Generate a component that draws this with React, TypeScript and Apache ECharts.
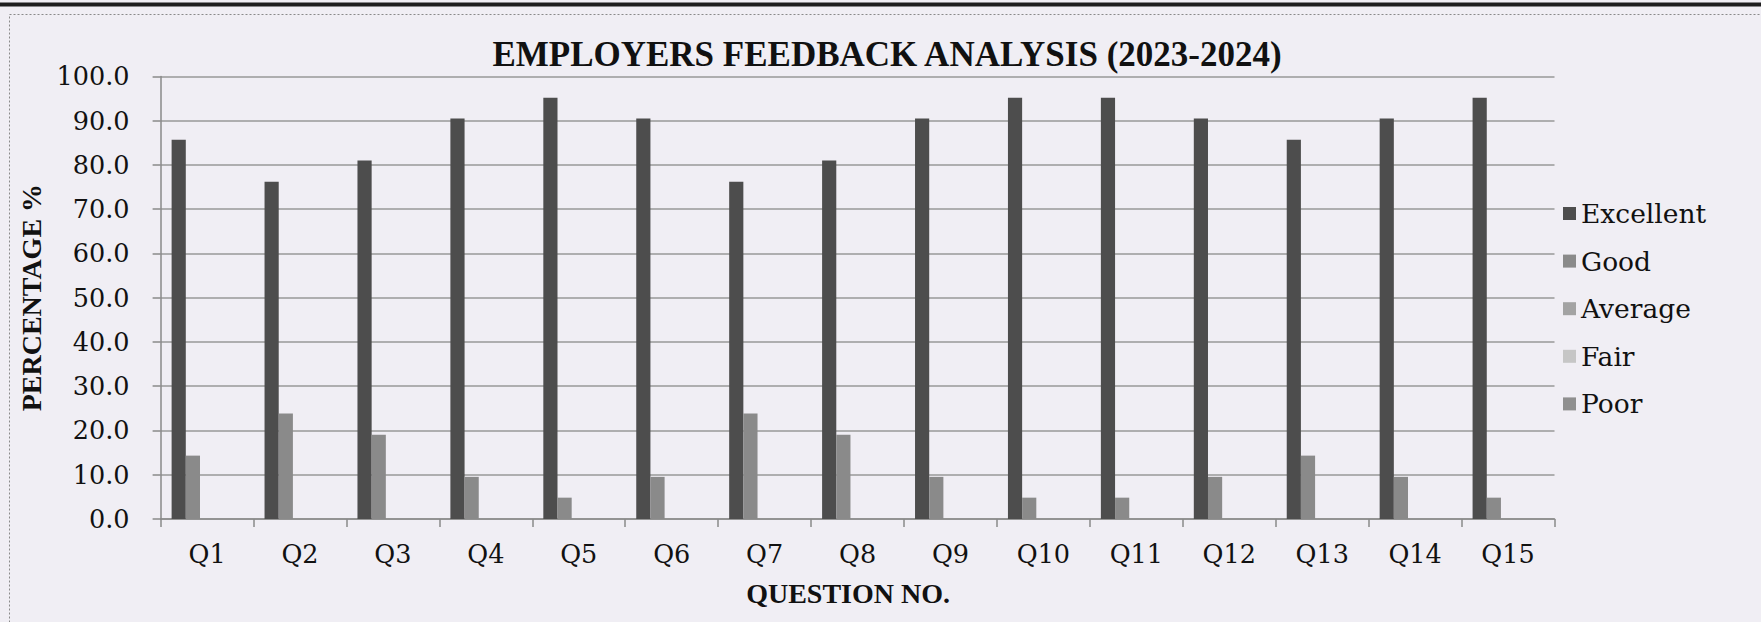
import React, { useEffect, useRef } from "react";
import * as echarts from "echarts";

const categories = ["Q1", "Q2", "Q3", "Q4", "Q5", "Q6", "Q7", "Q8", "Q9", "Q10", "Q11", "Q12", "Q13", "Q14", "Q15"];
const excellent = [85.7, 76.2, 81.0, 90.5, 95.2, 90.5, 76.2, 81.0, 90.5, 95.2, 95.2, 90.5, 85.7, 90.5, 95.2];
const good = [14.3, 23.8, 19.0, 9.5, 4.8, 9.5, 23.8, 19.0, 9.5, 4.8, 4.8, 9.5, 14.3, 9.5, 4.8];
const average = [0, 0, 0, 0, 0, 0, 0, 0, 0, 0, 0, 0, 0, 0, 0];
const fair = [0, 0, 0, 0, 0, 0, 0, 0, 0, 0, 0, 0, 0, 0, 0];
const poor = [0, 0, 0, 0, 0, 0, 0, 0, 0, 0, 0, 0, 0, 0, 0];
const yTicks = { min: 0, max: 100, interval: 10 };

const seriesDefs = [
  { name: "Excellent", data: excellent, color: "#4d4d4d" },
  { name: "Good", data: good, color: "#8a8a8a" },
  { name: "Average", data: average, color: "#a3a3a3" },
  { name: "Fair", data: fair, color: "#c6c6c6" },
  { name: "Poor", data: poor, color: "#8f8f8f" },
];

const REG = "'DejaVu Serif', serif";
const BOLD = "'Liberation Serif', 'Times New Roman', serif";

export default function App() {
  const ref = useRef<HTMLDivElement>(null);
  useEffect(() => {
    if (!ref.current) return;
    const chart = echarts.init(ref.current, undefined, { renderer: "svg" });
    chart.setOption({
      animation: false,
      backgroundColor: "#f0eef4",
      title: {
        text: "EMPLOYERS FEEDBACK ANALYSIS (2023-2024)",
        left: 887,
        top: 37,
        textAlign: "center",
        padding: 0,
        textStyle: { fontFamily: BOLD, fontWeight: "bold", fontSize: 35, lineHeight: 35, color: "#111" },
      },
      legend: {
        orient: "vertical",
        left: 1563,
        top: 200,
        padding: 0,
        itemWidth: 13,
        itemHeight: 13,
        itemGap: 20.6,
        icon: "rect",
        textStyle: { fontFamily: REG, fontSize: 26.5, lineHeight: 26, color: "#111" },
        data: seriesDefs.map((s) => s.name),
      },
      grid: { left: 160.6, right: 206.5, top: 76.4, bottom: 103.1, containLabel: false },
      xAxis: {
        type: "category",
        data: categories,
        name: "QUESTION NO.",
        nameLocation: "middle",
        nameGap: 61,
        nameTextStyle: {
          fontFamily: BOLD,
          fontWeight: "bold",
          fontSize: 28,
          lineHeight: 28,
          color: "#111",
          padding: [0, 19, 0, 0],
        },
        axisLine: { lineStyle: { color: "#8a8a8a", width: 1.5 } },
        axisTick: { show: true, length: 8, lineStyle: { color: "#8a8a8a", width: 1.5 } },
        axisLabel: { fontFamily: REG, fontSize: 25.5, lineHeight: 26, color: "#111", margin: 22 },
      },
      yAxis: {
        type: "value",
        min: yTicks.min,
        max: yTicks.max,
        interval: yTicks.interval,
        name: "PERCENTAGE %",
        nameLocation: "middle",
        nameGap: 112,
        nameTextStyle: { fontFamily: BOLD, fontWeight: "bold", fontSize: 28, lineHeight: 28, color: "#111" },
        axisLine: { show: true, lineStyle: { color: "#8a8a8a", width: 1.5 } },
        axisTick: { show: true, length: 8, lineStyle: { color: "#8a8a8a", width: 1.5 } },
        axisLabel: {
          fontFamily: REG,
          fontSize: 25.5,
          color: "#111",
          margin: 31,
          formatter: (v: number) => v.toFixed(1),
        },
        splitLine: { show: true, lineStyle: { color: "#999", width: 1.5 } },
      },
      graphic: [
        {
          type: "line",
          shape: { x1: 0, y1: 4.5, x2: 1761, y2: 4.5 },
          style: { stroke: "#1e1e1e", lineWidth: 4 },
          silent: true,
        },
        {
          type: "rect",
          shape: { x: 9.5, y: 14.5, width: 1800, height: 700 },
          style: { fill: "none", stroke: "#8a8a8a", lineWidth: 1, lineDash: [2, 2] },
          silent: true,
        },
      ],
      series: seriesDefs.map((s) => ({
        name: s.name,
        type: "bar",
        data: s.data,
        barGap: "0%",
        barCategoryGap: "23.7%",
        itemStyle: { color: s.color },
      })),
    });
    return () => chart.dispose();
  }, []);
  return (
    <div
      ref={ref}
      style={{ position: "absolute", left: 0, top: 0, width: 1761, height: 622, background: "#f0eef4" }}
    />
  );
}
